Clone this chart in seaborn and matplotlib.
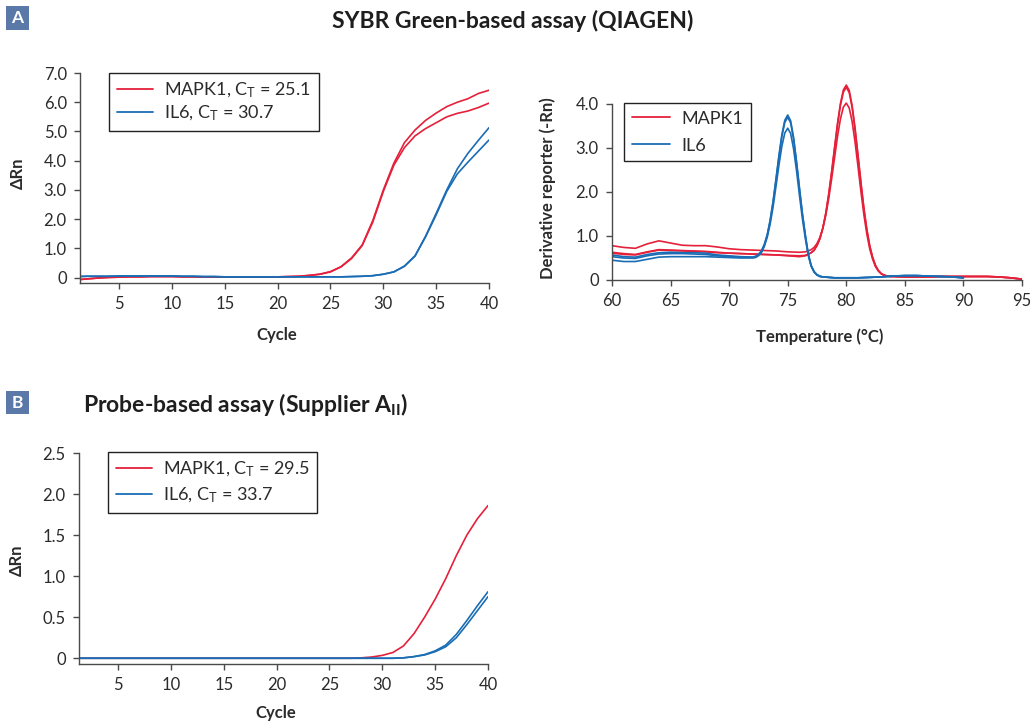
import matplotlib
matplotlib.use("Agg")
import numpy as np
import pandas as pd
import matplotlib.pyplot as plt
from matplotlib.patches import Rectangle
from matplotlib.lines import Line2D
import seaborn as sns

# ---------------------------------------------------------------- data
cycles = list(range(1, 41))

# A: SYBR Green amplification plots (delta Rn per cycle, two replicates each)
sybr_mapk1_r1 = [-0.07, -0.04, -0.01, 0.01, 0.02, 0.03, 0.03, 0.04, 0.04, 0.04,
                 0.03, 0.03, 0.02, 0.02, 0.02, 0.02, 0.02, 0.02, 0.02, 0.03,
                 0.04, 0.05, 0.08, 0.12, 0.21, 0.38, 0.68, 1.12, 1.95, 3.00,
                 3.92, 4.62, 5.05, 5.38, 5.63, 5.85, 6.00, 6.12, 6.30, 6.41]
sybr_mapk1_r2 = [-0.07, -0.04, -0.01, 0.01, 0.02, 0.03, 0.03, 0.04, 0.04, 0.04,
                 0.03, 0.03, 0.02, 0.02, 0.02, 0.02, 0.02, 0.02, 0.02, 0.03,
                 0.04, 0.05, 0.08, 0.12, 0.20, 0.37, 0.66, 1.10, 1.90, 2.95,
                 3.85, 4.45, 4.85, 5.10, 5.30, 5.50, 5.62, 5.70, 5.82, 5.97]
sybr_il6_r1 = [0.04, 0.05, 0.05, 0.05, 0.06, 0.06, 0.06, 0.06, 0.06, 0.06,
               0.05, 0.05, 0.04, 0.04, 0.03, 0.03, 0.03, 0.03, 0.03, 0.03,
               0.03, 0.03, 0.03, 0.03, 0.03, 0.03, 0.04, 0.05, 0.07, 0.12,
               0.20, 0.40, 0.75, 1.42, 2.20, 3.00, 3.72, 4.25, 4.70, 5.13]
sybr_il6_r2 = [0.04, 0.05, 0.05, 0.05, 0.06, 0.06, 0.06, 0.06, 0.06, 0.06,
               0.05, 0.05, 0.04, 0.04, 0.03, 0.03, 0.03, 0.03, 0.03, 0.03,
               0.03, 0.03, 0.03, 0.03, 0.03, 0.03, 0.04, 0.05, 0.07, 0.12,
               0.20, 0.39, 0.74, 1.40, 2.15, 2.95, 3.55, 3.95, 4.33, 4.71]

# A: melt curves (derivative reporter vs temperature), finer steps around each peak
temps_mapk1 = ([60, 61, 62, 63, 64, 65, 66, 67, 68, 69, 70, 71, 72, 73, 74, 75, 76] +
               [76.5, 76.75, 77, 77.25, 77.5, 77.75, 78, 78.25, 78.5, 78.75,
                79, 79.25, 79.5, 79.75, 80, 80.25, 80.5, 80.75, 81, 81.25,
                81.5, 81.75, 82, 82.25, 82.5, 82.75, 83, 83.25, 83.5, 83.75, 84] +
               [85, 86, 87, 88, 89, 90, 91, 92, 93, 94, 95])
melt_mapk1_r1 = ([0.78, 0.74, 0.72, 0.82, 0.89, 0.84, 0.79, 0.78, 0.78, 0.75, 0.71, 0.69,
                  0.68, 0.67, 0.66, 0.64, 0.63] +
                 [0.64, 0.66, 0.69, 0.74, 0.83, 0.97, 1.18, 1.47, 1.85, 2.30,
                  2.78, 3.26, 3.66, 3.93, 4.02, 3.91, 3.60, 3.13, 2.58, 2.01,
                  1.49, 1.05, 0.71, 0.47, 0.30, 0.20, 0.14, 0.10, 0.09, 0.08, 0.08] +
                 [0.07, 0.07, 0.07, 0.08, 0.08, 0.08, 0.08, 0.08, 0.07, 0.05, 0.02])
melt_mapk1_r2 = ([0.63, 0.60, 0.58, 0.64, 0.69, 0.68, 0.67, 0.66, 0.65, 0.63, 0.61, 0.60,
                  0.59, 0.58, 0.57, 0.55, 0.53] +
                 [0.55, 0.58, 0.62, 0.67, 0.78, 0.94, 1.18, 1.52, 1.95, 2.46,
                  3.01, 3.56, 4.01, 4.32, 4.43, 4.31, 3.96, 3.45, 2.84, 2.22,
                  1.64, 1.16, 0.78, 0.51, 0.33, 0.21, 0.14, 0.11, 0.09, 0.08, 0.08] +
                 [0.07, 0.07, 0.07, 0.08, 0.08, 0.08, 0.08, 0.08, 0.07, 0.05, 0.02])
melt_mapk1_r3 = ([0.61, 0.58, 0.57, 0.63, 0.68, 0.67, 0.66, 0.65, 0.64, 0.62, 0.61, 0.60,
                  0.59, 0.58, 0.57, 0.56, 0.55] +
                 [0.56, 0.59, 0.62, 0.68, 0.79, 0.94, 1.18, 1.51, 1.94, 2.44,
                  2.99, 3.52, 3.97, 4.27, 4.38, 4.26, 3.92, 3.41, 2.81, 2.19,
                  1.62, 1.14, 0.77, 0.51, 0.32, 0.21, 0.14, 0.11, 0.09, 0.08, 0.08] +
                 [0.07, 0.07, 0.07, 0.08, 0.08, 0.08, 0.08, 0.08, 0.07, 0.05, 0.02])

temps_il6 = ([60, 61, 62, 63, 64, 65, 66, 67, 68, 69, 70, 71] +
             [72, 72.25, 72.5, 72.75, 73, 73.25, 73.5, 73.75, 74, 74.25, 74.5, 74.75,
              75, 75.25, 75.5, 75.75, 76, 76.25, 76.5, 76.75, 77, 77.25, 77.5, 77.75, 78] +
             [79, 80, 81, 82, 83, 84, 85, 86, 87, 88, 89, 90])
melt_il6_r1 = ([0.57, 0.53, 0.52, 0.58, 0.62, 0.63, 0.62, 0.62, 0.61, 0.57, 0.55, 0.53] +
               [0.52, 0.54, 0.58, 0.66, 0.81, 1.03, 1.36, 1.79, 2.30, 2.83, 3.30, 3.63,
                3.75, 3.62, 3.24, 2.70, 2.10, 1.52, 1.03, 0.60, 0.33, 0.19, 0.12, 0.08, 0.07] +
               [0.05, 0.05, 0.05, 0.06, 0.07, 0.09, 0.10, 0.10, 0.09, 0.08, 0.07, 0.05])
melt_il6_r2 = ([0.53, 0.50, 0.49, 0.55, 0.59, 0.60, 0.60, 0.59, 0.58, 0.55, 0.53, 0.52] +
               [0.52, 0.52, 0.57, 0.64, 0.79, 1.01, 1.34, 1.76, 2.27, 2.79, 3.26, 3.58,
                3.70, 3.57, 3.20, 2.67, 2.07, 1.50, 1.02, 0.59, 0.33, 0.19, 0.12, 0.09, 0.07] +
               [0.05, 0.05, 0.05, 0.06, 0.07, 0.09, 0.10, 0.10, 0.09, 0.08, 0.07, 0.05])
melt_il6_r3 = ([0.45, 0.42, 0.42, 0.47, 0.52, 0.53, 0.53, 0.53, 0.53, 0.52, 0.51, 0.50] +
               [0.50, 0.51, 0.55, 0.62, 0.76, 0.97, 1.27, 1.66, 2.13, 2.61, 3.04, 3.34,
                3.45, 3.33, 2.98, 2.49, 1.93, 1.40, 0.95, 0.56, 0.31, 0.18, 0.11, 0.08, 0.07] +
               [0.05, 0.05, 0.05, 0.06, 0.07, 0.09, 0.10, 0.10, 0.09, 0.08, 0.07, 0.05])

# B: probe-based amplification plots
probe_mapk1 = [0.0] * 27 + [0.005, 0.015, 0.035, 0.07, 0.15, 0.30, 0.50, 0.72,
                            0.97, 1.25, 1.50, 1.70, 1.86]
probe_il6_r1 = [0.0] * 31 + [0.005, 0.02, 0.045, 0.09, 0.16, 0.29, 0.46, 0.64, 0.81]
probe_il6_r2 = [0.0] * 31 + [0.005, 0.02, 0.04, 0.08, 0.14, 0.25, 0.41, 0.58, 0.75]

genes = ["MAPK1", "IL6"]
sybr_ct = [25.1, 30.7]
probe_ct = [29.5, 33.7]
palette = {"MAPK1": "#e5203a", "IL6": "#1a6db4"}


def long_frame(xname, yname, series):
    rows = []
    for gene, rep, xs, values in series:
        for xi, yi in zip(xs, values):
            rows.append({xname: xi, yname: yi, "gene": gene, "rep": rep})
    return pd.DataFrame(rows).dropna()


amp_a = long_frame("Cycle", "dRn", [
    ("MAPK1", "r1", cycles, sybr_mapk1_r1), ("MAPK1", "r2", cycles, sybr_mapk1_r2),
    ("IL6", "r1", cycles, sybr_il6_r1), ("IL6", "r2", cycles, sybr_il6_r2)])
melt_a = long_frame("Temperature", "Deriv", [
    ("MAPK1", "r1", temps_mapk1, melt_mapk1_r1),
    ("MAPK1", "r2", temps_mapk1, melt_mapk1_r2),
    ("MAPK1", "r3", temps_mapk1, melt_mapk1_r3),
    ("IL6", "r1", temps_il6, melt_il6_r1),
    ("IL6", "r2", temps_il6, melt_il6_r2),
    ("IL6", "r3", temps_il6, melt_il6_r3)])
amp_b = long_frame("Cycle", "dRn", [
    ("MAPK1", "r1", cycles, probe_mapk1),
    ("IL6", "r1", cycles, probe_il6_r1), ("IL6", "r2", cycles, probe_il6_r2)])

# ---------------------------------------------------------------- style
sns.set_theme(style="ticks")
plt.rcParams["font.family"] = ["Lato", "DejaVu Sans"]
plt.rcParams["mathtext.fontset"] = "custom"
plt.rcParams["mathtext.rm"] = "Lato"
plt.rcParams["mathtext.bf"] = "Lato:bold"
plt.rcParams["mathtext.it"] = "Lato:italic"
plt.rcParams["lines.solid_joinstyle"] = "round"

W, H = 1030, 727
fig = plt.figure(figsize=(W / 100, H / 100), dpi=100)
fig.patch.set_facecolor("white")

SPINE = "#4a4a4a"
TEXT = "#2b2b2b"


def add_axes_px(left, top, right, bottom):
    ax = fig.add_axes([left / W, 1 - bottom / H, (right - left) / W, (bottom - top) / H])
    ax._px_box = (left, top, right, bottom)
    return ax


def place_label(ax, axis, px, py):
    left, top, right, bottom = ax._px_box
    ax_x = (px - left) / (right - left)
    ax_y = (bottom - py) / (bottom - top)
    lab = ax.xaxis if axis == "x" else ax.yaxis
    lab.set_label_coords(ax_x, ax_y)
    lab.label.set_verticalalignment("center")
    lab.label.set_horizontalalignment("center")


def style_axes(ax):
    sns.despine(ax=ax)
    for side in ("left", "bottom"):
        ax.spines[side].set_color(SPINE)
        ax.spines[side].set_linewidth(1.0)
    ax.tick_params(direction="out", length=4.5, width=1.0, color=SPINE,
                   labelsize=12, labelcolor=TEXT, pad=5)


def fmt_ticks(values, decimals=1):
    return ["0" if v == 0 else f"{v:.{decimals}f}" for v in values]


def legend(ax, labels, x, y, spacing, hlen, tpad):
    handles = [Line2D([], [], color=palette[g], lw=1.3) for g in genes]
    leg = ax.legend(handles, labels, loc="upper left",
                    bbox_to_anchor=(x / W, 1 - y / H), bbox_transform=fig.transFigure,
                    borderaxespad=0, fontsize=13, frameon=True, fancybox=False,
                    framealpha=1, edgecolor="#222222", borderpad=0.42,
                    labelspacing=spacing, handlelength=hlen, handletextpad=tpad)
    leg.get_frame().set_linewidth(1.0)
    for t in leg.get_texts():
        t.set_color(TEXT)
    return leg


line_kw = dict(hue="gene", units="rep", estimator=None, palette=palette,
               linewidth=1.2, legend=False, sort=False)
LABEL_SIZE = 12

# ---------------------------------------------------------------- A: amplification
ax1 = add_axes_px(80, 73, 489, 283)
sns.lineplot(data=amp_a, x="Cycle", y="dRn", ax=ax1, **line_kw)
ax1.set_xlim(1.3, 40)
ax1.set_ylim(-0.18, 7.0)
y1_ticks = [0, 1, 2, 3, 4, 5, 6, 7]
ax1.set_yticks(y1_ticks, fmt_ticks(y1_ticks))
ax1.set_xticks([5, 10, 15, 20, 25, 30, 35, 40])
style_axes(ax1)
ax1.set_xlabel("Cycle", fontsize=LABEL_SIZE, fontweight="bold", color=TEXT)
ax1.set_ylabel("\u0394Rn", fontsize=LABEL_SIZE, fontweight="bold", color=TEXT)
place_label(ax1, "x", 277, 335)
place_label(ax1, "y", 18, 173)
legend(ax1, [f"{g}, C$_\\mathrm{{T}}$ = {c}" for g, c in zip(genes, sybr_ct)],
       109, 73, 0.22, 2.0, 0.65)

# ---------------------------------------------------------------- A: melt curve
ax2 = add_axes_px(612, 82, 1022, 280)
sns.lineplot(data=melt_a, x="Temperature", y="Deriv", ax=ax2, **line_kw)
ax2.set_xlim(60, 95)
ax2.set_ylim(0, 4.5)
y2_ticks = [0, 1, 2, 3, 4]
ax2.set_yticks(y2_ticks, fmt_ticks(y2_ticks))
ax2.set_xticks([60, 65, 70, 75, 80, 85, 90, 95])
style_axes(ax2)
ax2.spines["left"].set_bounds(0, 4.0)
ax2.set_xlabel("Temperature (\u00b0C)", fontsize=LABEL_SIZE, fontweight="bold", color=TEXT)
ax2.set_ylabel("Derivative reporter (-Rn)", fontsize=LABEL_SIZE, fontweight="bold",
               color=TEXT)
place_label(ax2, "x", 820, 337)
place_label(ax2, "y", 548, 188)
legend(ax2, genes, 624, 103, 0.62, 2.15, 0.6)

# ---------------------------------------------------------------- B: probe amplification
ax3 = add_axes_px(79, 453, 488, 664)
sns.lineplot(data=amp_b, x="Cycle", y="dRn", ax=ax3, **line_kw)
ax3.set_xlim(1.3, 40)
ax3.set_ylim(-0.07, 2.5)
y3_ticks = [0, 0.5, 1.0, 1.5, 2.0, 2.5]
ax3.set_yticks(y3_ticks, fmt_ticks(y3_ticks))
ax3.set_xticks([5, 10, 15, 20, 25, 30, 35, 40])
style_axes(ax3)
ax3.set_xlabel("Cycle", fontsize=LABEL_SIZE, fontweight="bold", color=TEXT)
ax3.set_ylabel("\u0394Rn", fontsize=LABEL_SIZE, fontweight="bold", color=TEXT)
place_label(ax3, "x", 276, 713)
place_label(ax3, "y", 17, 560)
legend(ax3, [f"{g}, C$_\\mathrm{{T}}$ = {c}" for g, c in zip(genes, probe_ct)],
       108, 452, 0.38, 2.0, 0.6)

# ---------------------------------------------------------------- panel badges and titles
BADGE = "#5a78a8"


def badge(letter, left, top, right, bottom):
    fig.patches.append(Rectangle((left / W, 1 - bottom / H), (right - left) / W,
                                 (bottom - top) / H, transform=fig.transFigure,
                                 facecolor=BADGE, edgecolor="none"))
    fig.text((left + right) / 2 / W, 1 - (top + bottom) / 2 / H, letter,
             ha="center", va="center", color="white", fontsize=12.5, fontweight="bold")


badge("A", 6, 6, 29, 30)
badge("B", 6, 391, 29, 414)
fig.text(513 / W, 1 - 21 / H, "SYBR Green-based assay (QIAGEN)", ha="center", va="center",
         fontsize=16.5, fontweight="bold", color="#1e1e1e")
fig.text(83 / W, 1 - 404 / H, "Probe-based assay (Supplier A$_\\mathbf{II}$)", ha="left",
         va="center", fontsize=16.5, fontweight="bold", color="#1e1e1e")

fig.savefig("out.png", dpi=100, facecolor="white")
